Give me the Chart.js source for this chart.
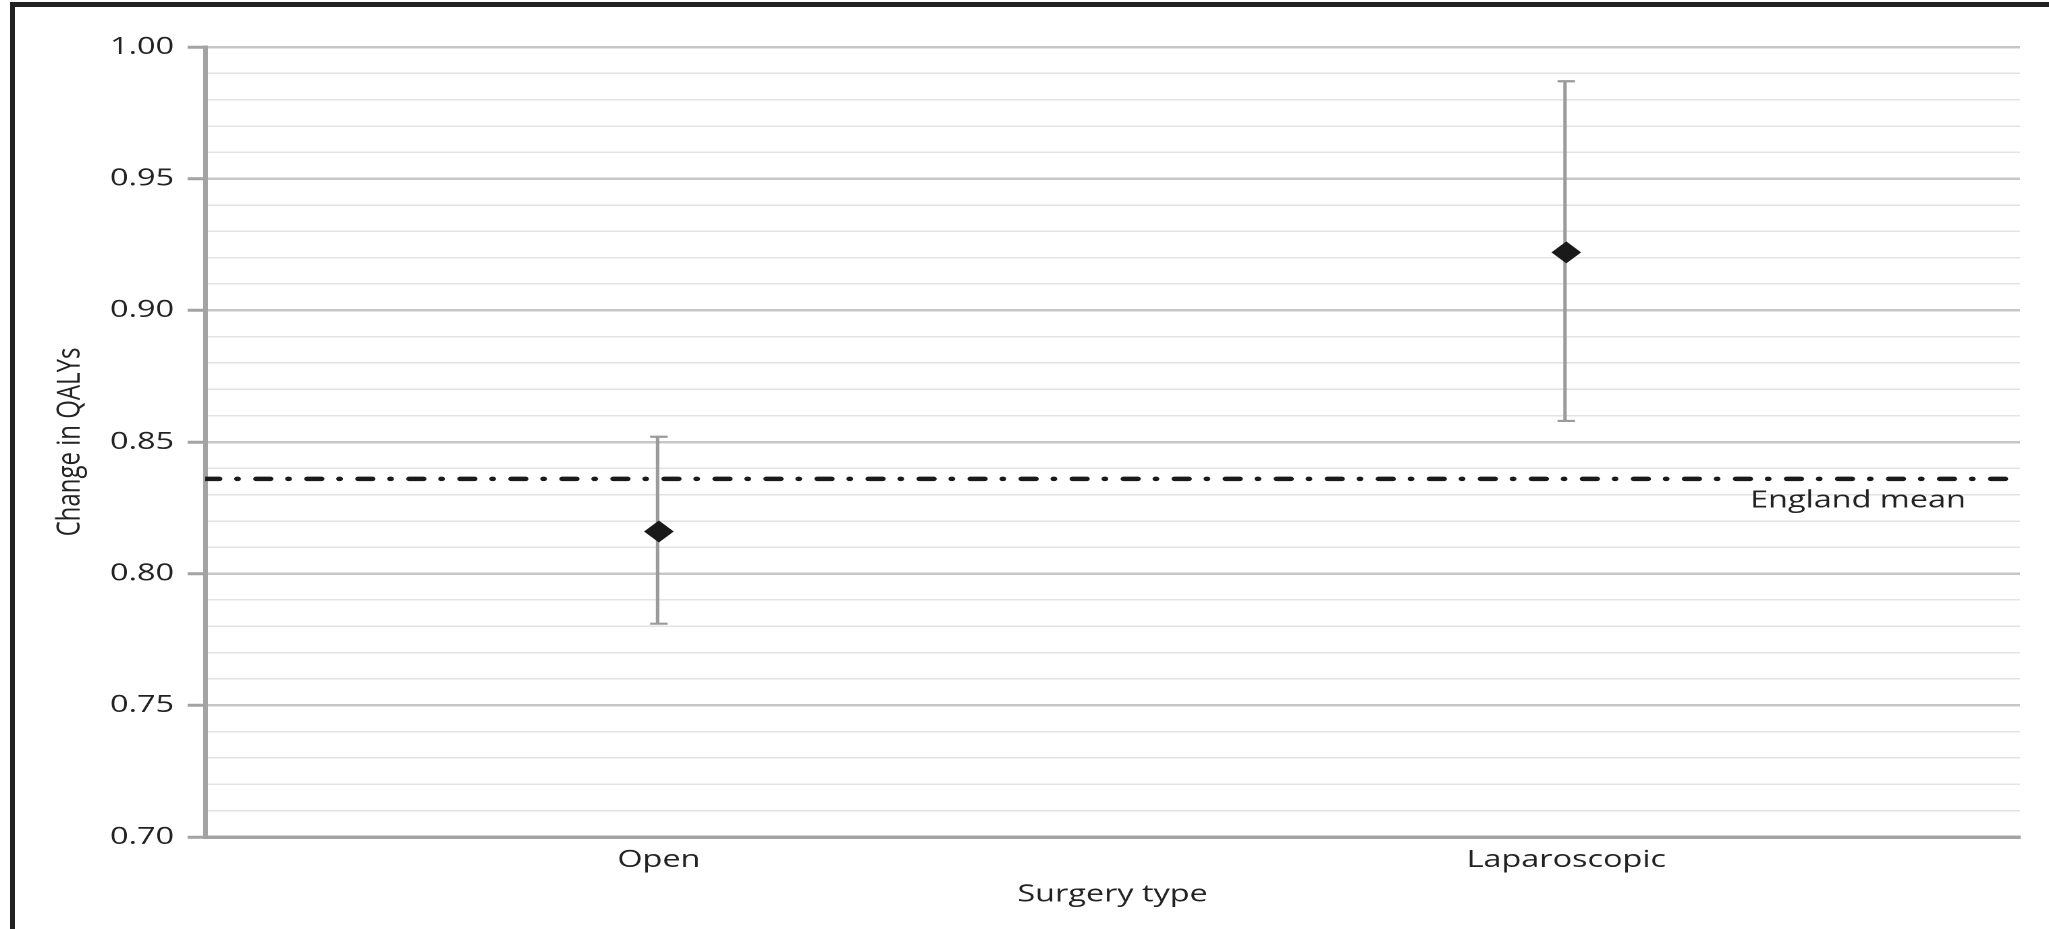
<!DOCTYPE html>
<html>
<head>
<meta charset="utf-8">
<title>Change in QALYs by surgery type</title>
<script src="https://cdn.jsdelivr.net/npm/chart.js@4.4.1/dist/chart.umd.min.js"></script>
<style>
  html, body { margin: 0; padding: 0; background: #fff; overflow: hidden; }
  #page { position: relative; width: 2049px; height: 929px; overflow: hidden; background: #fff; }
  /* the chart is laid out on a narrower canvas and widened to the page width */
  #wide { position: absolute; left: 0; top: 0; width: 1518px; height: 929px;
          transform: scaleX(1.34980); transform-origin: 0 0; }
  #frame { position: absolute; left: 10px; top: 2px; width: 2100px; height: 1000px;
           border-left: 5px solid #222; border-top: 5px solid #222; pointer-events: none; }
</style>
</head>
<body>
<div id="page">
  <div id="wide"><canvas id="chart" width="1518" height="929"></canvas></div>
  <div id="frame"></div>
</div>
<script>
// Mean change in QALYs with 95% confidence intervals, by surgery type
const categories = ['Open', 'Laparoscopic'];
const meanQaly   = [0.816, 0.922];
const ciLower    = [0.781, 0.858];
const ciUpper    = [0.852, 0.987];
const englandMean = 0.836;
const yRange     = [0.70, 1.00];

const TEXT = '#222222';
const AXIS = '#a3a3a3';
const WHISKER = '#9b9b9b';
const FONT = '"Open Sans"';

const isMajor = v => Math.round(v * 100) % 5 === 0;

// "England mean" caption under the reference line
const meanLabel = {
  id: 'meanLabel',
  afterDatasetsDraw(chart) {
    const { ctx, chartArea, scales } = chart;
    const yPix = scales.y.getPixelForValue(englandMean);
    ctx.save();
    ctx.font = '24px ' + FONT;
    ctx.fillStyle = TEXT;
    ctx.textAlign = 'center';
    ctx.textBaseline = 'middle';
    ctx.fillText('England mean', chartArea.right - 120, yPix + 22);
    ctx.restore();
  }
};

new Chart(document.getElementById('chart'), {
  type: 'bar',
  data: {
    labels: categories,
    datasets: [
      {
        type: 'line', label: 'Mean change in QALYs', xAxisID: 'x',
        data: meanQaly, showLine: false,
        pointStyle: 'rectRot', pointRadius: 11,
        pointBackgroundColor: '#1a1a1a', pointBorderWidth: 0, order: 0
      },
      {
        type: 'line', label: 'Upper 95% CI', xAxisID: 'x',
        data: ciUpper, showLine: false,
        pointStyle: 'line', pointRadius: 6.5,
        pointBorderColor: WHISKER, pointBorderWidth: 2.2, order: 1
      },
      {
        type: 'line', label: 'Lower 95% CI', xAxisID: 'x',
        data: ciLower, showLine: false,
        pointStyle: 'line', pointRadius: 6.5,
        pointBorderColor: WHISKER, pointBorderWidth: 2.2, order: 1
      },
      {
        type: 'bar', label: '95% CI', xAxisID: 'x',
        data: categories.map((c, i) => [ciLower[i], ciUpper[i]]),
        backgroundColor: WHISKER, borderWidth: 0, barThickness: 1.9, order: 2
      },
      {
        type: 'line', label: 'England mean', xAxisID: 'xLine',
        data: [{ x: 0, y: englandMean }, { x: 1, y: englandMean }],
        borderColor: '#1a1a1a', borderWidth: 4.5,
        borderDash: [10.5, 13.2, 0.5, 13.6], borderCapStyle: 'round',
        pointRadius: 0, order: 3
      }
    ]
  },
  options: {
    responsive: false,
    devicePixelRatio: 2,
    animation: false,
    events: [],
    layout: { padding: { left: 0, right: 21.5, top: 47, bottom: 0 } },
    plugins: { legend: { display: false }, tooltip: { enabled: false } },
    scales: {
      x: {
        type: 'category', offset: true,
        grid: { display: true, drawOnChartArea: false, drawTicks: false, tickLength: 0, color: 'rgba(0,0,0,0)' },
        border: { display: true, color: AXIS, width: 3.5 },
        ticks: { color: TEXT, font: { family: FONT, size: 24 }, padding: 9 },
        title: { display: true, text: 'Surgery type', color: TEXT,
                 font: { family: FONT, size: 24 }, padding: { top: 0, bottom: 20 } },
        afterFit(scale) { scale.height = 92; }
      },
      xLine: { type: 'linear', display: false, min: 0, max: 1, offset: false },
      y: {
        type: 'linear', min: yRange[0], max: yRange[1],
        ticks: {
          count: 31, autoSkip: false, padding: 10, color: TEXT,
          font: { family: FONT, size: 24 },
          callback: v => isMajor(v) ? v.toFixed(2) : ''
        },
        grid: {
          color: c => isMajor(c.tick.value) ? '#c6c6c6' : '#e3e3e3',
          lineWidth: c => isMajor(c.tick.value) ? 2.5 : 1.5,
          drawTicks: true, tickLength: 13, tickWidth: 3,
          tickColor: c => isMajor(c.tick.value) ? AXIS : 'rgba(0,0,0,0)'
        },
        border: { color: AXIS, width: 3.5 },
        title: { display: true, text: 'Change in QALYs', color: TEXT,
                 font: { family: FONT, size: 24 }, padding: { top: 38, bottom: 0 } },
        afterFit(scale) { scale.width = 152; }
      }
    }
  },
  plugins: [meanLabel]
});
</script>
</body>
</html>
